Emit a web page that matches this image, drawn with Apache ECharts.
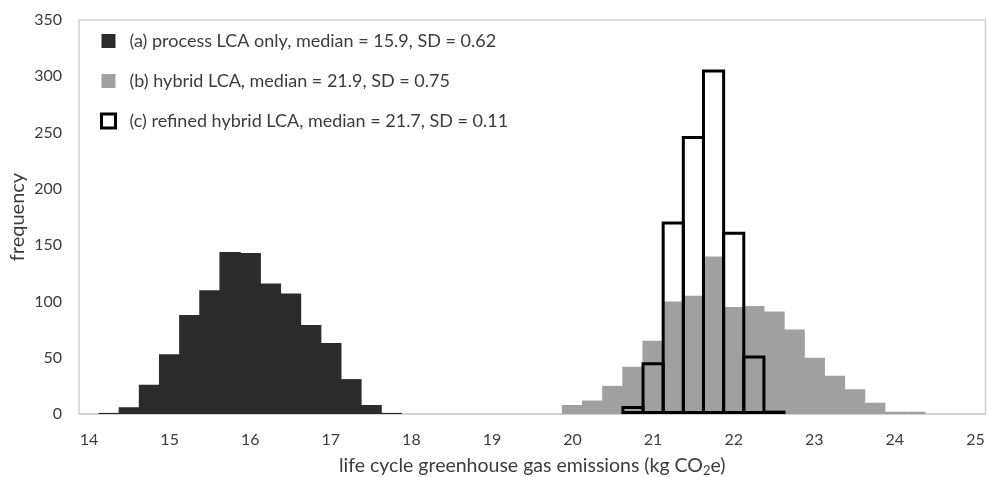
<!DOCTYPE html>
<html>
<head>
<meta charset="utf-8">
<script src="https://cdn.jsdelivr.net/npm/echarts@6/dist/echarts.min.js"></script>
<style>
  html, body { margin: 0; padding: 0; background: #fff; }
  #chart { width: 987px; height: 477px; }
</style>
</head>
<body>
<div id="chart"></div>
<script>
// bin centres of the 0.25 wide histogram bins (kg CO2e)
const binCenters = [
  '14', '14.25', '14.5', '14.75', '15', '15.25', '15.5', '15.75',
  '16', '16.25', '16.5', '16.75', '17', '17.25', '17.5', '17.75',
  '18', '18.25', '18.5', '18.75', '19', '19.25', '19.5', '19.75',
  '20', '20.25', '20.5', '20.75', '21', '21.25', '21.5', '21.75',
  '22', '22.25', '22.5', '22.75', '23', '23.25', '23.5', '23.75',
  '24', '24.25', '24.5', '24.75', '25'
]

// (a) process LCA only
const processBins = ['14.25', '14.5', '14.75', '15', '15.25', '15.5', '15.75', '16',
  '16.25', '16.5', '16.75', '17', '17.25', '17.5', '17.75']
const processFreq = [1, 6, 26, 53, 88, 110, 144, 143, 116, 107, 79, 63, 31, 8, 1]

// (b) hybrid LCA
const hybridBins = ['20', '20.25', '20.5', '20.75', '21', '21.25', '21.5', '21.75', '22',
  '22.25', '22.5', '22.75', '23', '23.25', '23.5', '23.75', '24', '24.25']
const hybridFreq = [8, 12, 25, 42, 65, 100, 105, 140, 95, 96, 91, 75, 50, 34, 22, 10, 2, 2]

// (c) refined hybrid LCA
const refinedBins = ['20.75', '21', '21.25', '21.5', '21.75', '22', '22.25', '22.5']
const refinedFreq = [7, 46, 171, 247, 306, 162, 52, 3]

const names = [
  '(a) process LCA only, median = 15.9, SD = 0.62',
  '(b) hybrid LCA, median = 21.9, SD = 0.75',
  '(c) refined hybrid LCA, median = 21.7, SD = 0.11'
]

const pairs = (bins, freq) => bins.map((b, i) => [b, freq[i]])

const textColor = '#3c3c3c'
const font = 'Lato, "Open Sans", sans-serif'

const chart = echarts.init(document.getElementById('chart'))
chart.setOption({
  animation: false,
  backgroundColor: '#ffffff',
  textStyle: { fontFamily: font, color: textColor },
  grid: {
    left: 79, right: 1.5, top: 20, bottom: 63,
    outerBoundsMode: 'none',
    show: true, borderColor: '#d0d0d0', borderWidth: 1.5, backgroundColor: 'transparent'
  },
  legend: {
    orient: 'vertical',
    left: 95, top: 24,
    itemWidth: 14, itemHeight: 14, itemGap: 16,
    textStyle: { fontSize: 18, lineHeight: 24, color: textColor, fontFamily: font, padding: [0, 0, 0, 9] },
    data: [
      { name: names[0], icon: 'rect', itemStyle: { color: '#2b2b2b', borderWidth: 0 } },
      { name: names[1], icon: 'rect', itemStyle: { color: '#a0a0a0', borderWidth: 0 } },
      { name: names[2], icon: 'rect', itemStyle: { color: '#ffffff', borderColor: '#000', borderWidth: 3 } }
    ]
  },
  xAxis: [
    {
      type: 'category',
      data: binCenters,
      boundaryGap: true,
      axisLine: { show: true, lineStyle: { color: '#d0d0d0', width: 1.5 } },
      axisTick: { show: false },
      axisLabel: { interval: 3, fontSize: 16, color: textColor, margin: 18 },
      name: 'life cycle greenhouse gas emissions (kg CO{sub|2}e)',
      nameLocation: 'middle',
      nameGap: 41,
      nameTextStyle: {
        fontSize: 19.5, color: textColor,
        rich: { sub: { fontSize: 13, color: textColor, padding: [9, 0, 0, 0] } }
      }
    },
    {
      // same bins, only used to lay out the outlined series on its own
      type: 'category',
      data: binCenters,
      position: 'bottom',
      show: false
    }
  ],
  yAxis: {
    type: 'value',
    min: 0, max: 350, interval: 50,
    axisLine: { show: false },
    axisTick: { show: false },
    splitLine: { show: false },
    axisLabel: { fontSize: 16, color: textColor, margin: 17 },
    name: 'frequency',
    nameLocation: 'middle',
    nameGap: 51,
    nameMoveOverlap: false,
    nameRotate: 90,
    nameTextStyle: { fontSize: 20, color: textColor }
  },
  series: [
    {
      name: names[0], type: 'bar',
      data: pairs(processBins, processFreq),
      barGap: '-100%', barWidth: '106%',
      itemStyle: { color: '#2b2b2b' }
    },
    {
      name: names[1], type: 'bar',
      data: pairs(hybridBins, hybridFreq),
      barGap: '-100%', barWidth: '106%',
      itemStyle: { color: '#a0a0a0' }
    },
    {
      name: names[2], type: 'bar',
      xAxisIndex: 1,
      data: pairs(refinedBins, refinedFreq),
      barWidth: '115%',
      z: 3,
      itemStyle: { color: 'rgba(255,255,255,0)', borderColor: '#000000', borderWidth: 3 }
    }
  ]
})
</script>
</body>
</html>
